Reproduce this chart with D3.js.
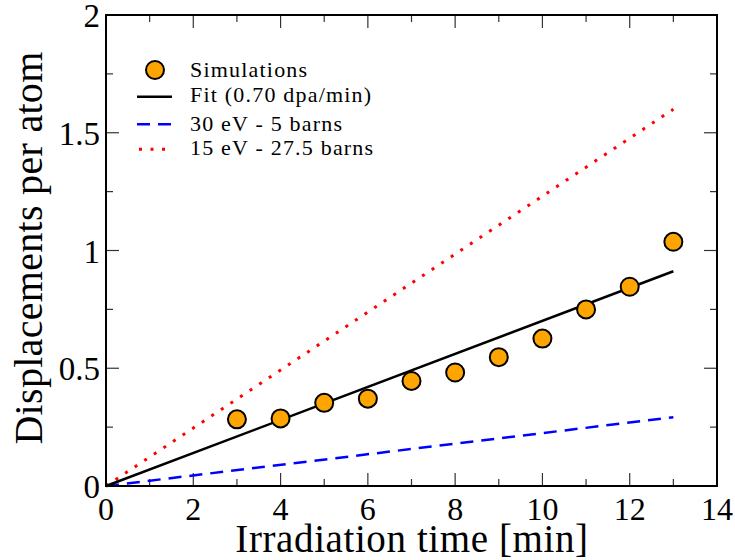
<!DOCTYPE html>
<html><head><meta charset="utf-8">
<script src="https://cdn.jsdelivr.net/npm/d3@7"></script>
<style>body{margin:0;background:#fff}svg{display:block}text{font-family:"Liberation Serif","Times New Roman",serif}</style>
</head><body>
<svg id="c" width="735" height="560"></svg>
<script>
const simTime = [3,4,5,6,7,8,9,10,11,12,13];
const simDpa = [0.283,0.287,0.353,0.371,0.446,0.482,0.547,0.626,0.750,0.846,1.037];
const fitTime = [0,13];
const fitDpa = [0,0.912];
const dashTime = [0,13];
const dashDpa = [0,0.292];
const dotTime = [0,13];
const dotDpa = [0,1.60];
const xTicks = [0,2,4,6,8,10,12,14];
const yTicks = [0,0.5,1,1.5,2];
const legendLabels = ["Simulations","Fit (0.70 dpa/min)","30 eV - 5 barns","15 eV - 27.5 barns"];

const svg = d3.select("#c");
const L=106,R=717,T=15,B=486;
const x = d3.scaleLinear().domain([0,14]).range([L,R]);
const y = d3.scaleLinear().domain([0,2]).range([B,T]);

// ticks (inward) on all four sides
const xMinor = d3.range(0,14.01,1);
const yMinor = d3.range(0,2.001,0.25);
const tg = svg.append("g").attr("stroke","#333").attr("stroke-width",1.2);
xMinor.forEach(v=>{
  const major = Math.abs(v/2-Math.round(v/2))<1e-6;
  const len = major?13:7;
  tg.append("line").attr("x1",x(v)).attr("x2",x(v)).attr("y1",B).attr("y2",B-len);
  tg.append("line").attr("x1",x(v)).attr("x2",x(v)).attr("y1",T).attr("y2",T+len);
});
yMinor.forEach(v=>{
  const major = Math.abs(v*2-Math.round(v*2))<1e-6;
  const len = major?13:7;
  tg.append("line").attr("y1",y(v)).attr("y2",y(v)).attr("x1",L).attr("x2",L+len);
  tg.append("line").attr("y1",y(v)).attr("y2",y(v)).attr("x1",R).attr("x2",R-len);
});

// tick labels
svg.append("g").selectAll("text").data(xTicks).join("text")
  .attr("x",d=>x(d)).attr("y",520).attr("text-anchor","middle")
  .attr("font-size",32).text(d=>d);
svg.append("g").selectAll("text").data(yTicks).join("text")
  .attr("x",100).attr("y",d=>y(d)+12).attr("text-anchor","end")
  .attr("font-size",33).text(d=>d);

// axis titles
svg.append("text").attr("x",412).attr("y",552).attr("text-anchor","middle")
  .attr("font-size",39).attr("letter-spacing",0.6).text("Irradiation time [min]");
svg.append("text").attr("transform","translate(42,248) rotate(-90)").attr("text-anchor","middle")
  .attr("font-size",40).attr("letter-spacing",0.3).text("Displacements per atom");

const line = d3.line().x(d=>x(d[0])).y(d=>y(d[1]));
const g = svg.append("g");
g.append("path").datum(d3.zip(dotTime,dotDpa)).attr("d",line).attr("fill","none")
  .attr("stroke","#ff0000").attr("stroke-width",3).attr("stroke-dasharray","3,8.5");
g.append("path").datum(d3.zip(dashTime,dashDpa)).attr("d",line).attr("fill","none")
  .attr("stroke","#0000ff").attr("stroke-width",2.5).attr("stroke-dasharray","13,8");
g.append("path").datum(d3.zip(fitTime,fitDpa)).attr("d",line).attr("fill","none")
  .attr("stroke","#000").attr("stroke-width",2.5);
g.selectAll("circle").data(d3.zip(simTime,simDpa)).join("circle")
  .attr("cx",d=>x(d[0])).attr("cy",d=>y(d[1])).attr("r",9)
  .attr("fill","#ffa500").attr("stroke","#000").attr("stroke-width",2);

// frame
svg.append("rect").attr("x",L).attr("y",T).attr("width",R-L).attr("height",B-T)
  .attr("fill","none").attr("stroke","#000").attr("stroke-width",2);

// legend
const lg = svg.append("g");
const ly = [70,96.7,124.3,149.3];
const lb = [76.7,101.7,131,155];
lg.append("circle").attr("cx",155).attr("cy",ly[0]).attr("r",9)
  .attr("fill","#ffa500").attr("stroke","#000").attr("stroke-width",2);
lg.append("line").attr("x1",137).attr("x2",172).attr("y1",ly[1]).attr("y2",ly[1]).attr("stroke","#000").attr("stroke-width",2.5);
lg.append("line").attr("x1",137).attr("x2",172).attr("y1",ly[2]).attr("y2",ly[2]).attr("stroke","#0000ff").attr("stroke-width",2.5).attr("stroke-dasharray","13,8");
lg.append("line").attr("x1",139).attr("x2",172).attr("y1",ly[3]).attr("y2",ly[3]).attr("stroke","#ff0000").attr("stroke-width",3).attr("stroke-dasharray","3,8.5");
lg.selectAll("text").data(legendLabels).join("text")
  .attr("x",190).attr("y",(d,i)=>lb[i]).attr("font-size",22).attr("letter-spacing",1.2).text(d=>d);
</script>
</body></html>
